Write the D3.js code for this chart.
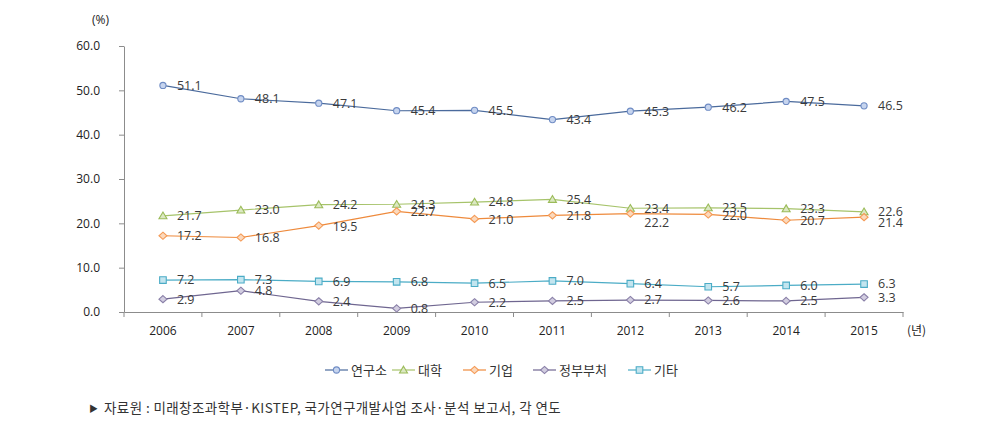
<!DOCTYPE html>
<html><head><meta charset="utf-8">
<script src="https://cdn.jsdelivr.net/npm/d3@7"></script>
<style>
body{margin:0;background:#fff;}
svg{display:block;font-family:"Noto Sans CJK KR","Noto Sans",sans-serif;}
</style></head>
<body><svg id="c" width="1005" height="430"></svg>
<script>
const years = ["2006","2007","2008","2009","2010","2011","2012","2013","2014","2015"];
const seriesNames = ["연구소","대학","기업","정부부처","기타"];
const research = [51.1,48.1,47.1,45.4,45.5,43.4,45.3,46.2,47.5,46.5];
const university = [21.7,23.0,24.2,24.3,24.8,25.4,23.4,23.5,23.3,22.6];
const company = [17.2,16.8,19.5,22.7,21.0,21.8,22.2,22.0,20.7,21.4];
const government = [2.9,4.8,2.4,0.8,2.2,2.5,2.7,2.6,2.5,3.3];
const other = [7.2,7.3,6.9,6.8,6.5,7.0,6.4,5.7,6.0,6.3];
const yTicks = [0,10,20,30,40,50,60];
const sourceMark = "▶";
const source = "자료원 : 미래창조과학부·KISTEP, 국가연구개발사업 조사·분석 보고서, 각 연도";

// label vertical nudges (layout only)
const labelDy = {
  "기업": [0,0,1,0,1,0,9,1,0,5]
};

const styles = [
  {name:"연구소", data:research, line:"#4a6a9c", stroke:"#6f8cc4", fill:"#c6d4ee", shape:"circle"},
  {name:"대학", data:university, line:"#a6c36a", stroke:"#9bbb59", fill:"#dbe8c2", shape:"triangle"},
  {name:"기업", data:company, line:"#ee8a3c", stroke:"#f59a55", fill:"#fbd9bd", shape:"diamond"},
  {name:"정부부처", data:government, line:"#6f6690", stroke:"#8a80a8", fill:"#d2cde0", shape:"diamond"},
  {name:"기타", data:other, line:"#4bacc6", stroke:"#4bacc6", fill:"#c3e5ef", shape:"square"}
];

const svg = d3.select("#c");
const x = d3.scaleBand().domain(years).range([124,903]).padding(0);
const xi = d3.scaleLinear().domain([0,years.length]).range([124,903]);
const y = d3.scaleLinear().domain([0,60]).range([312,46]);
const cx = d => x(d) + x.bandwidth()/2;

const axisColor = "#8c8c8c";
const numFont = "'Open Sans','Noto Sans',sans-serif";
// Y axis
const ya = svg.append("g").attr("transform","translate(124,0)")
  .call(d3.axisLeft(y).tickValues(yTicks).tickFormat(d3.format(".1f")).tickSize(5).tickSizeOuter(0));
ya.select(".domain").attr("stroke",axisColor);
ya.selectAll(".tick line").attr("stroke",axisColor);
ya.selectAll(".tick text").attr("fill","#222").attr("font-size","12px").attr("x",-24)
  .attr("font-family",numFont);

// X axis
const xa = svg.append("g").attr("transform","translate(0,312)")
  .call(d3.axisBottom(x).tickSize(0).tickSizeOuter(0));
xa.select(".domain").attr("stroke",axisColor);
xa.selectAll(".tick text").attr("fill","#222").attr("font-size","12px").attr("dy","0").attr("y",23)
  .attr("font-family",numFont);
svg.append("g").selectAll("line").data(d3.range(0,years.length+1)).join("line")
  .attr("x1",d=>xi(d)).attr("x2",d=>xi(d)).attr("y1",312).attr("y2",317).attr("stroke",axisColor);

svg.append("text").attr("x",109).attr("y",24).attr("text-anchor","end").attr("font-size","12px").attr("fill","#222")
  .attr("font-family",numFont).text("(%)");
svg.append("text").attr("x",907).attr("y",335).attr("font-size","12px").attr("fill","#222").text("(년)");

function symbolPath(shape){
  if(shape==="diamond") return "M0,-3.6L4,0L0,3.6L-4,0Z";
  if(shape==="circle") return d3.symbol().type(d3.symbolCircle).size(30)();
  if(shape==="triangle") return "M0,-3.8L4,3L-4,3Z";
  return "M-3.3,-3.3H3.3V3.3H-3.3Z";
}

styles.forEach(s=>{
  const g = svg.append("g");
  const line = d3.line().x((d,i)=>cx(years[i])).y(d=>y(d));
  g.append("path").attr("d",line(s.data)).attr("fill","none").attr("stroke",s.line).attr("stroke-width",1.2);
  g.selectAll("path.m").data(s.data).join("path").attr("class","m")
    .attr("d",symbolPath(s.shape))
    .attr("transform",(d,i)=>`translate(${cx(years[i])},${y(d)})`)
    .attr("fill",s.fill).attr("stroke",s.stroke).attr("stroke-width",1.1);
  const dys = labelDy[s.name] || [];
  g.selectAll("text").data(s.data).join("text")
    .attr("x",(d,i)=>cx(years[i])+14)
    .attr("y",(d,i)=>y(d)+(dys[i]||0))
    .attr("dy","0.35em")
    .attr("font-size","12.5px").attr("fill","#3a3a3a")
    .attr("font-family",numFont)
    .text(d=>d.toFixed(1));
});

// Legend
const legX = [325,392,463,533,628];
const lg = svg.append("g");
styles.forEach((s,i)=>{
  const g = lg.append("g").attr("transform",`translate(${legX[i]},370)`);
  g.append("line").attr("x1",0).attr("x2",23).attr("y1",0).attr("y2",0).attr("stroke",s.line).attr("stroke-width",1.2);
  g.append("path").attr("d",symbolPath(s.shape)).attr("transform","translate(11.5,0)")
    .attr("fill",s.fill).attr("stroke",s.stroke).attr("stroke-width",1.1);
  g.append("text").attr("x",26).attr("y",0).attr("dy","0.36em").attr("font-size","13px").attr("fill","#333").text(s.name);
});

const ft = svg.append("text").attr("x",89).attr("y",413).attr("fill","#333");
ft.append("tspan").attr("font-size","9px").attr("dy","-1").text(sourceMark);
ft.append("tspan").attr("font-size","13.5px").attr("dy","1").attr("dx","6").attr("letter-spacing","0.4px").text(source);
</script></body></html>
